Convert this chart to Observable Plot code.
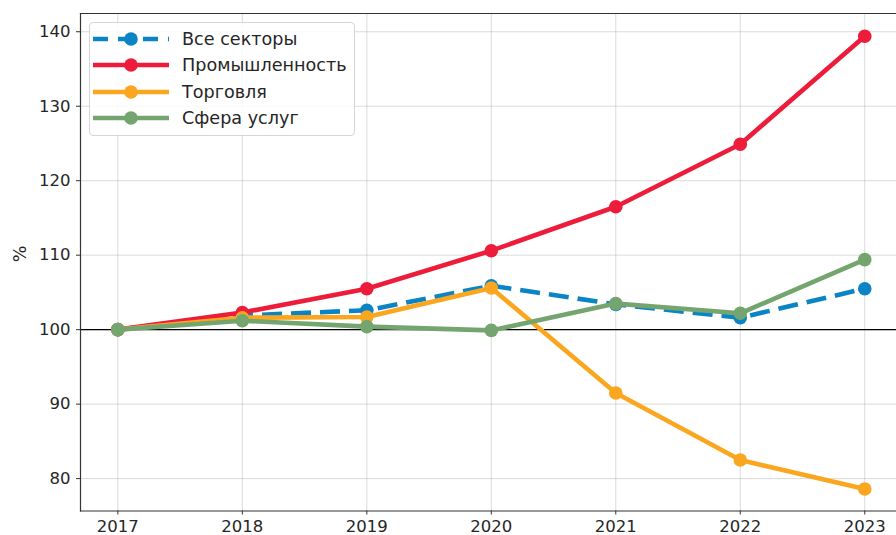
<!DOCTYPE html>
<html>
<head>
<meta charset="utf-8">
<script src="https://cdn.jsdelivr.net/npm/d3@7"></script>
<script src="https://cdn.jsdelivr.net/npm/@observablehq/plot@0.6"></script>
<style>
  html, body { margin: 0; padding: 0; background: #fff; }
  #wrap { position: relative; width: 896px; height: 535px; overflow: hidden; font-family: "DejaVu Sans", sans-serif; }
  #legend { position: absolute; left: 89px; top: 22px; width: 266px; height: 114px; box-sizing: border-box;
            border: 1px solid #d6d6d6; border-radius: 4px; background: rgba(255,255,255,0.85); }
  .item { position: absolute; left: 0; height: 26px; display: flex; align-items: center; }
  .item svg { position: absolute; left: 2px; top: 0; }
  .item span { position: absolute; left: 92px; font-size: 17.6px; color: #262626; white-space: nowrap; line-height: 26px; }
</style>
</head>
<body>
<div id="wrap"><div id="legend"></div></div>
<script>
const years = [2017, 2018, 2019, 2020, 2021, 2022, 2023];
const seriesNames = ["Все секторы", "Промышленность", "Торговля", "Сфера услуг"];
const allSectors = [100, 101.9, 102.6, 105.9, 103.4, 101.6, 105.5];
const industry   = [100, 102.3, 105.5, 110.6, 116.5, 124.9, 139.4];
const trade      = [100, 101.6, 101.7, 105.6, 91.5, 82.5, 78.6];
const services   = [100, 101.2, 100.4, 99.9, 103.5, 102.2, 109.4];
const seriesValues = [allSectors, industry, trade, services];
const colors = ["#0a84c4", "#ee1c3b", "#fba61f", "#74a56f"];
const dashes = ["20,9", null, null, null];
const yTicks = [80, 90, 100, 110, 120, 130, 140];
const yLabel = "%";

const rows = [];
seriesNames.forEach((name, i) => years.forEach((yr, j) => rows.push({series: name, year: yr, value: seriesValues[i][j]})));

const marks = [
  Plot.gridX(years, {stroke: "#b0b0b0", strokeOpacity: 0.45, strokeWidth: 1}),
  Plot.gridY(yTicks, {stroke: "#b0b0b0", strokeOpacity: 0.45, strokeWidth: 1}),
  Plot.ruleY([100], {stroke: "#000", strokeWidth: 1.3}),
  Plot.axisX(years, {tickFormat: d => String(d), fontSize: 16.5, tickSize: 4, tickPadding: 5, label: null, stroke: "#333", color: "#262626"}),
  Plot.axisY(yTicks, {fontSize: 16.5, tickSize: 4, tickPadding: 6, label: null, stroke: "#333", color: "#262626"}),
  Plot.text([yLabel], {frameAnchor: "left", dx: -60, rotate: -90, fontSize: 17.6, fill: "#262626"}),
];
seriesNames.forEach((name, i) => {
  const d = rows.filter(r => r.series === name);
  marks.push(Plot.line(d, {x: "year", y: "value", stroke: colors[i], strokeWidth: 4.6, strokeDasharray: dashes[i] || undefined, strokeLinecap: "butt"}));
  marks.push(Plot.dot(d, {x: "year", y: "value", fill: colors[i], r: 6.8, stroke: "none"}));
});
marks.push(Plot.frame({anchor: "left", stroke: "#333", strokeWidth: 1.2}));
marks.push(Plot.frame({anchor: "top", stroke: "#333", strokeWidth: 1.2}));
marks.push(Plot.frame({anchor: "bottom", stroke: "#333", strokeWidth: 1.2}));

const chart = Plot.plot({
  width: 896, height: 535,
  marginLeft: 80, marginRight: 0, marginTop: 13, marginBottom: 24.5,
  x: {domain: [2016.7, 2023.255]},
  y: {domain: [75.65, 142.45]},
  style: {fontFamily: "DejaVu Sans, sans-serif", fontSize: "16.5px", background: "#fff", overflow: "visible"},
  marks
});
document.getElementById("wrap").prepend(chart);

const legend = document.getElementById("legend");
seriesNames.forEach((name, i) => {
  const item = document.createElement("div");
  item.className = "item";
  item.style.top = (3 + i * 26.4) + "px";
  const dash = dashes[i] ? ` stroke-dasharray="15,10"` : "";
  item.innerHTML = `<svg width="80" height="26"><line x1="1" x2="77" y1="13" y2="13" stroke="${colors[i]}" stroke-width="4.6"${dash}/><circle cx="39" cy="13" r="6.8" fill="${colors[i]}"/></svg><span>${name}</span>`;
  legend.appendChild(item);
});
</script>
</body>
</html>
